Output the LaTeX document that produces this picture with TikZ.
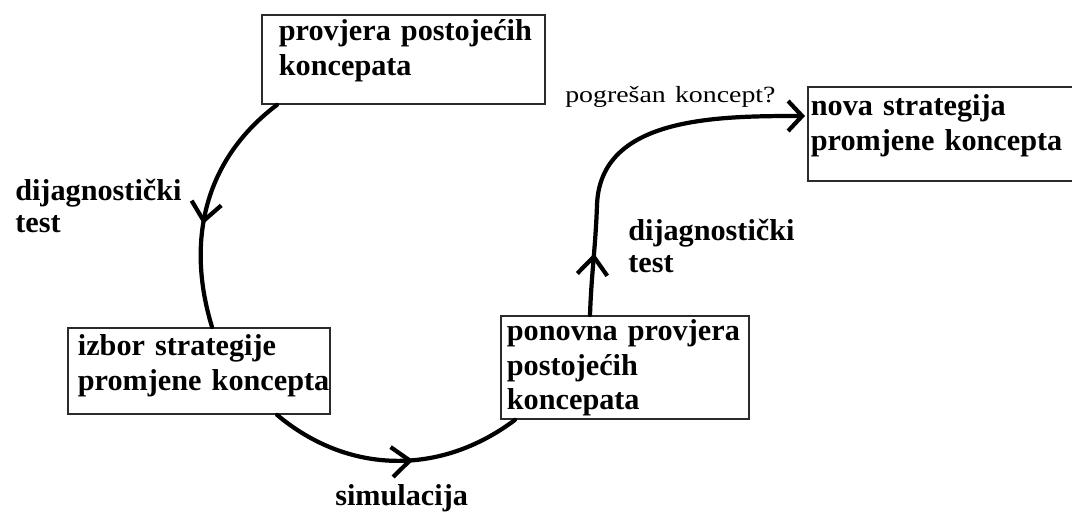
\documentclass[tikz,border=0pt]{standalone}
\usepackage{fontspec}
\setmainfont{Liberation Serif}
\usetikzlibrary{positioning,arrows.meta,calc,decorations.markings}
\definecolor{crub}{HTML}{2B2B2B}
\tikzset{
  kutija/.style={rectangle, draw=crub, line width=1.3pt, anchor=north west,
    align=left, inner ysep=0pt, font=\bfseries\fontsize{21.5}{24.5}\selectfont},
  oznaka/.style={anchor=base west, inner sep=0pt, text width=5cm, align=left,
    font=\bfseries\fontsize{21.5}{23}\selectfont},
  strelica/.style={line width=3pt, draw=black, line cap=round},
  vrh/.style={-{Straight Barb[length=3.5mm, width=7.5mm]}},
  usred/.style={postaction={decorate, decoration={markings,
    mark=at position #1 with {\arrow{Straight Barb[length=4.5mm, width=7.5mm]}}}}},
}
\begin{document}
\begin{tikzpicture}[x=0.025cm, y=-0.025cm]
  \useasboundingbox (0,0) rectangle (1072,513);
  % kutije
  \node[kutija, inner xsep=0.425cm, text width=6.225cm, text height=0.65cm, text depth=1.575cm]
    (provjera) at (261,14) {\mbox{provjera postojećih}\\\mbox{koncepata}};
  \node[kutija, inner xsep=0.25cm, text width=6.05cm, text height=0.7cm, text depth=1.45cm]
    (izbor) at (67,327) {\mbox{izbor strategije}\\\mbox{promjene koncepta}};
  \node[kutija, inner xsep=0.15cm, text width=5.9cm, text height=0.625cm, text depth=1.95cm]
    (ponovna) at (500,315) {\mbox{ponovna provjera}\\\mbox{postojećih}\\\mbox{koncepata}};
  \node[kutija, inner xsep=0.075cm, text width=7.5cm, text height=0.725cm, text depth=1.625cm]
    (nova) at (807,86) {\mbox{nova strategija}\\\mbox{promjene koncepta}};
  % oznake
  \node[oznaka] (test1) at (15,200) {\mbox{dijagnostički}\\test};
  \node[oznaka] (test2) at (628,240) {\mbox{dijagnostički}\\test};
  \node[oznaka] (simulacija) at (335,505) {simulacija};
  \node[oznaka, font=\fontsize{16.5}{19}\selectfont] (pogresan) at (565,102)
    {\scalebox{1.2}[1]{pogrešan koncept?}};
  % veze
  \coordinate (zavoj) at (597,205);
  \draw[strelica, usred=0.58] ($(provjera.south west)+(16,0)$) to[out=217, in=107] ($(izbor.north west)+(145,0)$);
  \draw[strelica, usred=0.57] ($(izbor.south west)+(210,0)$) to[out=320, in=217] ($(ponovna.south west)+(15,0)$);
  \draw[strelica, usred=0.56] ($(ponovna.north west)+(90,0)$) to[out=88, in=-92] (zavoj);
  \draw[strelica, vrh] (zavoj) to[out=88, in=180] ($(nova.north west)+(-2,30)$);
\end{tikzpicture}
\end{document}
